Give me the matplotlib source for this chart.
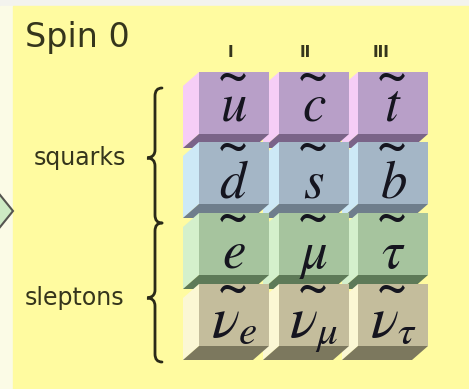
import matplotlib.pyplot as plt
from matplotlib.patches import Polygon, Rectangle, PathPatch
from matplotlib.path import Path

plt.rcParams['mathtext.fontset'] = 'stix'

# chart content
generations = ['I', 'II', 'III']
particles = [
    [r'$u$', r'$c$', r'$t$'],
    [r'$d$', r'$s$', r'$b$'],
    [r'$e$', r'$\mu$', r'$\tau$'],
    [r'$\nu_{e}$', r'$\nu_{\mu}$', r'$\nu_{\tau}$'],
]
groups = ['squarks', 'sleptons']
title = 'Spin 0'

# colours per row: front, side (light), bottom (dark)
front_cols = ['#b89fc8', '#a4b6c6', '#a6c49e', '#c4bd9c']
side_cols = ['#f6cdf6', '#cde9f6', '#d4f0cc', '#fbf7d4']
bottom_cols = ['#7a6488', '#6f7e8c', '#5e7a58', '#7c785e']

W, H = 469, 389
fig = plt.figure(figsize=(W / 100, H / 100), dpi=100)
ax = fig.add_axes([0, 0, 1, 1])
ax.set_xlim(0, W)
ax.set_ylim(H, 0)
ax.axis('off')

# background pieces
ax.add_patch(Rectangle((0, 0), W, H, color='#f3f3ee', zorder=0))
ax.add_patch(Rectangle((0, 6), 13, H, color='#fbfbe6', zorder=0))
ax.add_patch(Rectangle((13, 6), W, H, color='#fffba0', zorder=0))
ax.add_patch(Polygon([(-8, 185), (13, 211), (-8, 237)], closed=True,
                     facecolor='#cdeac4', edgecolor='#555550', lw=1.5, zorder=1))

ax.text(25, 47, title, fontsize=24, color='#35351c', ha='left', va='baseline')

# box grid
col_x = [199, 279, 358]
row_y = [72, 142, 213, 284]
base_off = [48, 55, 55, 53]
bw, bh = 70, 62
dx, dy = -16, 14
gen_x = [230, 305, 381]

for c, g in enumerate(generations):
    ax.text(gen_x[c], 52, g, fontsize=11, fontweight='bold', color='#35351c',
            ha='center', va='center')

z = 2
for r in range(len(particles)):
    for c in reversed(range(len(generations))):
        x0, y0 = col_x[c], row_y[r]
        side = [(x0, y0), (x0, y0 + bh), (x0 + dx, y0 + bh + dy), (x0 + dx, y0 + dy)]
        bottom = [(x0, y0 + bh), (x0 + bw, y0 + bh),
                  (x0 + bw + dx, y0 + bh + dy), (x0 + dx, y0 + bh + dy)]
        ax.add_patch(Polygon(side, closed=True, facecolor=side_cols[r], lw=0, zorder=z))
        ax.add_patch(Polygon(bottom, closed=True, facecolor=bottom_cols[r], lw=0, zorder=z))
        ax.add_patch(Rectangle((x0, y0), bw, bh, facecolor=front_cols[r], lw=0, zorder=z + 1))
        fs = 42 if r == 3 else 38
        ax.text(x0 + bw / 2, y0 + base_off[r], particles[r][c], fontsize=fs,
                color='#15151f', ha='center', va='baseline', zorder=z + 2)
        ax.text(x0 + bw / 2 - 1, y0 + 6, '~', fontsize=40, family='STIXGeneral',
                color='#15151f', ha='center', va='center', zorder=z + 2)
        z += 3


def brace(y0, y1, ym, xs=155, xe=162, xt=147):
    r = 8
    verts = [(xe, y0), (xs, y0), (xs, y0 + r),
             (xs, ym - r),
             (xs, ym), (xt, ym), (xt, ym),
             (xs, ym), (xs, ym + r),
             (xs, y1 - r),
             (xs, y1), (xe, y1)]
    codes = [Path.MOVETO, Path.CURVE3, Path.CURVE3,
             Path.LINETO,
             Path.CURVE4, Path.CURVE4, Path.CURVE4,
             Path.CURVE3, Path.CURVE3,
             Path.LINETO,
             Path.CURVE3, Path.CURVE3]
    ax.add_patch(PathPatch(Path(verts, codes), fill=False, lw=2, edgecolor='#2a2a18',
                           capstyle='round', zorder=5))


brace(88, 223, 158)
brace(223, 362, 298)

ax.text(80, 158, groups[0], fontsize=17, color='#35351c', ha='center', va='center')
ax.text(75, 298, groups[1], fontsize=17, color='#35351c', ha='center', va='center')

fig.savefig('out.png', dpi=100)
